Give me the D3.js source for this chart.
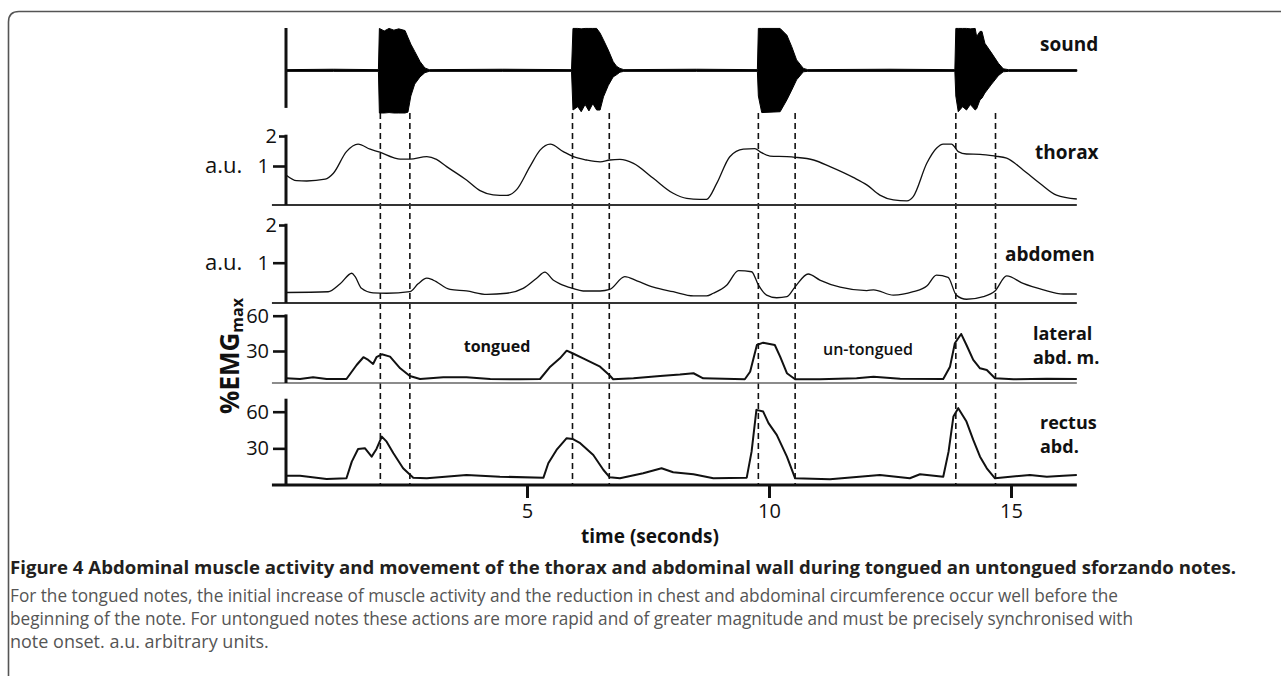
<!DOCTYPE html>
<html><head><meta charset="utf-8">
<script src="https://cdn.jsdelivr.net/npm/d3@7"></script>
<style>
html,body{margin:0;padding:0;background:#fff;}
svg{display:block;}
text{font-family:"Open Sans","Noto Sans",sans-serif;fill:#111;}
</style>
</head><body>
<script>
// ---------------- DATA ----------------
const xTicks = [5, 10, 15];
const noteMarks = [1.97, 2.58, 5.94, 6.70, 9.78, 10.54, 13.86, 14.68];

// sound envelope (normalised amplitude)
const soundT  = [0.02,1.00,1.93,1.95,2.05,2.15,2.25,2.35,2.48,2.54,2.60,2.68,2.79,2.89,2.98,4.50,5.92,5.95,6.05,6.12,6.20,6.28,6.36,6.44,6.51,6.58,6.68,6.78,6.85,6.92,7.00,8.50,9.76,9.78,9.85,10.23,10.37,10.47,10.57,10.71,10.80,12.50,13.84,13.86,13.91,14.00,14.08,14.16,14.26,14.29,14.36,14.40,14.46,14.60,14.74,14.84,14.95,16.36];
const soundHi = [0.02,0.03,0.02,0.99,0.93,0.99,0.95,0.98,0.94,0.78,0.62,0.45,0.21,0.06,0.02,0.03,0.02,0.99,0.99,0.98,0.99,0.99,0.99,0.99,0.88,0.72,0.48,0.21,0.10,0.05,0.02,0.03,0.02,0.99,0.99,0.99,0.83,0.56,0.25,0.05,0.02,0.03,0.02,0.99,0.99,0.99,0.99,0.98,0.99,0.80,0.92,0.92,0.64,0.41,0.17,0.04,0.02,0.02];
const soundLo = [-0.02,-0.02,-0.02,-1.00,-1.00,-0.99,-1.00,-1.00,-1.00,-0.98,-0.60,-0.32,-0.15,-0.05,-0.02,-0.02,-0.02,-0.93,-0.85,-0.97,-0.80,-0.95,-0.78,-0.93,-0.93,-0.62,-0.35,-0.15,-0.10,-0.04,-0.02,-0.02,-0.02,-0.60,-0.99,-0.97,-0.69,-0.46,-0.22,-0.03,-0.02,-0.02,-0.02,-0.60,-0.97,-0.85,-0.93,-0.80,-0.93,-0.90,-0.69,-0.65,-0.53,-0.32,-0.12,-0.03,-0.02,-0.02];

// thorax (a.u.)
const thoraxT = [0.02,0.24,0.45,0.83,1.00,1.27,1.51,1.76,1.96,2.24,2.38,2.58,2.93,3.13,3.34,3.75,4.03,4.30,4.58,4.79,5.06,5.27,5.48,5.75,5.96,6.23,6.51,6.71,6.92,7.20,7.61,8.02,8.30,8.57,8.71,8.92,9.19,9.47,9.71,9.81,10.02,10.37,10.54,10.92,11.26,11.74,12.02,12.29,12.57,12.85,12.98,13.26,13.46,13.60,13.77,13.91,14.08,14.36,14.67,14.91,15.25,15.60,15.94,16.36];
const thoraxV = [0.70,0.51,0.50,0.56,0.76,1.48,1.73,1.56,1.46,1.28,1.23,1.23,1.31,1.22,0.98,0.53,0.18,0.04,0.02,0.22,0.98,1.53,1.73,1.48,1.31,1.20,1.14,1.20,1.22,1.09,0.59,0.09,-0.08,-0.11,-0.11,0.42,1.31,1.56,1.58,1.48,1.33,1.31,1.29,1.20,0.98,0.62,0.37,0.03,-0.13,-0.16,-0.02,1.09,1.59,1.73,1.73,1.48,1.40,1.39,1.33,1.26,0.87,0.42,0.03,-0.10];

// abdomen (a.u.)
const abdomenT = [0.02,0.89,1.14,1.38,1.45,1.58,1.82,2.10,2.58,2.75,2.93,3.06,3.41,3.75,4.17,4.58,4.92,5.20,5.37,5.54,5.68,5.94,6.16,6.51,6.71,7.02,7.27,7.61,8.02,8.44,8.71,8.85,9.13,9.37,9.64,9.78,9.95,10.16,10.37,10.54,10.81,11.05,11.47,12.02,12.16,12.57,12.98,13.26,13.46,13.70,13.87,14.08,14.43,14.67,14.91,15.25,15.67,16.08,16.36];
const abdomenV = [0.21,0.23,0.44,0.72,0.63,0.32,0.20,0.19,0.23,0.44,0.59,0.54,0.29,0.25,0.16,0.19,0.32,0.59,0.75,0.54,0.44,0.32,0.25,0.25,0.29,0.63,0.52,0.35,0.23,0.12,0.12,0.19,0.41,0.79,0.76,0.41,0.14,0.07,0.10,0.36,0.70,0.54,0.35,0.26,0.28,0.14,0.23,0.38,0.67,0.61,0.14,0.03,0.10,0.25,0.65,0.45,0.28,0.17,0.17];

// lateral abd. m. (%EMGmax)
const lateralT = [0.02,0.31,0.58,0.86,1.27,1.48,1.62,1.72,1.82,1.89,2.00,2.17,2.38,2.58,2.79,3.27,3.75,4.24,4.86,5.27,5.48,5.68,5.82,5.94,6.16,6.51,6.70,6.78,7.20,7.75,8.16,8.44,8.64,9.50,9.61,9.75,9.88,10.12,10.23,10.37,10.54,11.05,11.81,12.16,12.71,13.60,13.74,13.84,13.97,14.08,14.22,14.36,14.50,14.67,15.05,15.74,16.36];
const lateralV = [6.8,6.2,7.7,6.2,6.2,18.1,24.7,22.4,19.0,24.7,27.2,25.2,15.3,8.8,6.2,7.7,7.7,6.2,6.0,6.2,16.7,23.8,30.3,28.1,23.8,16.7,9.6,6.0,6.8,8.8,10.0,11.1,6.8,6.0,12.4,35.1,37.1,35.1,25.2,11.1,6.0,6.0,6.8,8.2,6.5,6.2,16.7,36.6,44.5,35.1,22.4,15.3,13.9,6.8,6.0,6.5,6.2];

// rectus abd. (%EMGmax)
const rectusT = [0.02,0.31,0.86,1.27,1.38,1.51,1.65,1.79,1.89,2.00,2.10,2.24,2.44,2.65,2.93,3.75,4.44,5.34,5.44,5.61,5.82,5.94,6.10,6.37,6.58,6.71,6.92,7.40,7.78,8.02,8.44,8.85,9.54,9.64,9.74,9.88,9.99,10.16,10.37,10.54,11.26,12.29,12.91,13.12,13.60,13.71,13.81,13.91,14.08,14.22,14.36,14.50,14.67,15.39,15.74,16.08,16.36];
const rectusV = [7.6,7.6,4.9,5.5,19.1,29.5,30.1,23.2,29.5,39.6,35.5,26.0,13.7,6.0,5.5,8.2,6.8,6.0,17.8,28.7,38.3,37.7,34.2,24.6,12.3,6.3,5.5,9.6,13.7,10.4,8.8,5.5,6.0,27.3,61.5,60.1,50.6,41.0,23.2,5.5,4.7,8.2,5.5,8.8,6.8,27.3,56.0,62.9,51.9,36.9,23.2,13.7,5.5,8.2,6.8,7.6,8.2];

const auTicks = [1, 2];
const emgTicks = [30, 60];

const captionTitle = "Figure 4 Abdominal muscle activity and movement of the thorax and abdominal wall during tongued an untongued sforzando notes.";
const captionLines = [
  "For the tongued notes, the initial increase of muscle activity and the reduction in chest and abdominal circumference occur well before the",
  "beginning of the note. For untongued notes these actions are more rapid and of greater magnitude and must be precisely synchronised with",
  "note onset. a.u. arbitrary units."
];

// ---------------- DRAWING ----------------
const W = 1281, H = 676;
const svg = d3.select("body").append("svg").attr("width", W).attr("height", H);
svg.append("rect").attr("width", W).attr("height", H).attr("fill", "#fff");

// frame
svg.append("path").attr("d", "M8.5,676 L8.5,22 Q8.5,11.5 19,11.5 L1281,11.5")
  .attr("fill", "none").attr("stroke", "#555").attr("stroke-width", 1.6);

const x = d3.scaleLinear().domain([0, 10]).range([285, 769]);
const xStart = -0.27, xEnd = 16.36;
const axisX = x(0) + 1;

const zip = (T, V) => T.map((t, i) => ({t, v: V[i]}));

const panels = [
  {name: "thorax", T: thoraxT, V: thoraxV, y: d3.scaleLinear().domain([0, 2]).range([196, 136]),
   ticks: auTicks, top: 136, base: 205, curve: d3.curveMonotoneX, sw: 1.3, baseW: 2, baseC: "#333", unit: "a.u.", unitY: 166},
  {name: "abdomen", T: abdomenT, V: abdomenV, y: d3.scaleLinear().domain([0, 2]).range([300.4, 225]),
   ticks: auTicks, top: 225, base: 303, curve: d3.curveMonotoneX, sw: 1.3, baseW: 2, baseC: "#333", unit: "a.u.", unitY: 262.7},
  {name: "lateral", T: lateralT, V: lateralV, y: d3.scaleLinear().domain([0, 60]).range([386.3, 315.7]),
   ticks: emgTicks, top: 315.7, base: 383, curve: d3.curveLinear, sw: 2, baseW: 1.5, baseC: "#666"},
  {name: "rectus", T: rectusT, V: rectusV, y: d3.scaleLinear().domain([0, 60]).range([485, 411.7]),
   ticks: emgTicks, top: 400, base: 485, curve: d3.curveLinear, sw: 2, baseW: 3, baseC: "#111"}
];

// dashed note markers (behind traces)
svg.append("g").selectAll("line").data(noteMarks).join("line")
  .attr("x1", d => x(d)).attr("x2", d => x(d))
  .attr("y1", 113).attr("y2", 484)
  .attr("stroke", "#111").attr("stroke-width", 1.6).attr("stroke-dasharray", "6,4");

panels.forEach(p => {
  const g = svg.append("g");
  g.append("line").attr("x1", x(xStart)).attr("x2", x(xEnd)).attr("y1", p.base).attr("y2", p.base)
    .attr("stroke", p.baseC).attr("stroke-width", p.baseW);
  const ax = d3.axisLeft(p.y).tickValues(p.ticks).tickSizeInner(13).tickSizeOuter(0).tickPadding(4)
    .tickFormat(d3.format("d"));
  const ag = g.append("g").attr("transform", `translate(${axisX},0)`).call(ax);
  ag.select(".domain").remove();
  ag.selectAll(".tick line").attr("stroke", "#111").attr("stroke-width", 2.6);
  ag.selectAll(".tick text").style("font-size", "20px").style("font-family", "'Open Sans',sans-serif").attr("fill", "#111");
  ag.selectAll(".tick").filter(d => d === 2).each(function() {
    d3.select(this).select("line").attr("x2", -7);
    d3.select(this).select("text").attr("x", -9);
  });
  g.append("line").attr("x1", axisX).attr("x2", axisX).attr("y1", p.top - 1.3).attr("y2", p.base)
    .attr("stroke", "#111").attr("stroke-width", 3);
  if (p.unit) {
    g.append("text").attr("x", 205).attr("y", p.unitY).attr("dy", "0.34em")
      .style("font-size", "22px").text(p.unit);
  }
  const line = d3.line().x(d => x(d.t)).y(d => p.y(d.v)).curve(p.curve);
  g.append("path").datum(zip(p.T, p.V)).attr("d", line)
    .attr("fill", "none").attr("stroke", "#111").attr("stroke-width", p.sw).attr("stroke-linejoin", "round");
});

// sound panel
const ys = d3.scaleLinear().domain([-1, 1]).range([113, 28]);
const soundData = soundT.map((t, i) => ({t, hi: soundHi[i], lo: soundLo[i]}));
svg.append("path").datum(soundData)
  .attr("d", d3.area().x(d => x(d.t)).y0(d => ys(d.lo)).y1(d => ys(d.hi)))
  .attr("fill", "#000").attr("stroke", "#000").attr("stroke-width", 1);
svg.append("line").attr("x1", axisX).attr("x2", axisX).attr("y1", ys(1)).attr("y2", ys(-0.88))
  .attr("stroke", "#111").attr("stroke-width", 3);

// x axis ticks
const xa = d3.axisBottom(x).tickValues(xTicks).tickSizeInner(13).tickSizeOuter(0).tickPadding(6).tickFormat(d3.format("d"));
const xg = svg.append("g").attr("transform", "translate(0,485)").call(xa);
xg.select(".domain").remove();
xg.selectAll(".tick line").attr("stroke", "#111").attr("stroke-width", 3);
xg.selectAll(".tick text").style("font-size", "20px").style("font-family", "'Open Sans',sans-serif").attr("fill", "#111");

svg.append("text").attr("x", 650).attr("y", 543).attr("text-anchor", "middle")
  .style("font-size", "19px").style("font-weight", "700").text("time (seconds)");

// panel labels
const lbl = (t, xx, yy, size, weight) => svg.append("text").attr("x", xx).attr("y", yy)
  .style("font-size", size + "px").style("font-weight", weight).text(t);
lbl("sound", 1040, 51, 19, 700);
lbl("thorax", 1035, 159, 19, 700);
lbl("abdomen", 1005, 261, 19, 700);
lbl("lateral", 1033, 340, 18, 700);
lbl("abd. m.", 1033, 364, 18, 700);
lbl("rectus", 1040, 429, 18, 700);
lbl("abd.", 1040, 453, 18, 700);
svg.append("text").attr("x", 497).attr("y", 352).attr("text-anchor", "middle")
  .style("font-size", "16px").style("font-weight", "700").text("tongued");
svg.append("text").attr("x", 868).attr("y", 355).attr("text-anchor", "middle")
  .style("font-size", "16px").style("font-weight", "600").text("un-tongued");

// y label %EMGmax
const yl = svg.append("text").attr("transform", "translate(239,356) rotate(-90)")
  .attr("text-anchor", "middle").style("font-size", "26px").style("font-weight", "700");
yl.append("tspan").text("%EMG");
yl.append("tspan").attr("dy", "0.25em").style("font-size", "16px").text("max");

// caption
svg.append("text").attr("x", 10).attr("y", 574)
  .attr("textLength", 1226).attr("lengthAdjust", "spacingAndGlyphs")
  .style("font-size", "18px").style("font-weight", "700")
  .style("fill", "#231f20").text(captionTitle);
const capLens = [1108, 1123, null];
captionLines.forEach((s, i) => {
  const t = svg.append("text").attr("x", 10).attr("y", 602 + i * 23)
    .style("font-size", "18px").style("font-weight", "400").style("fill", "#555").text(s);
  if (capLens[i]) t.attr("textLength", capLens[i]).attr("lengthAdjust", "spacingAndGlyphs");
});
</script>
</body></html>
